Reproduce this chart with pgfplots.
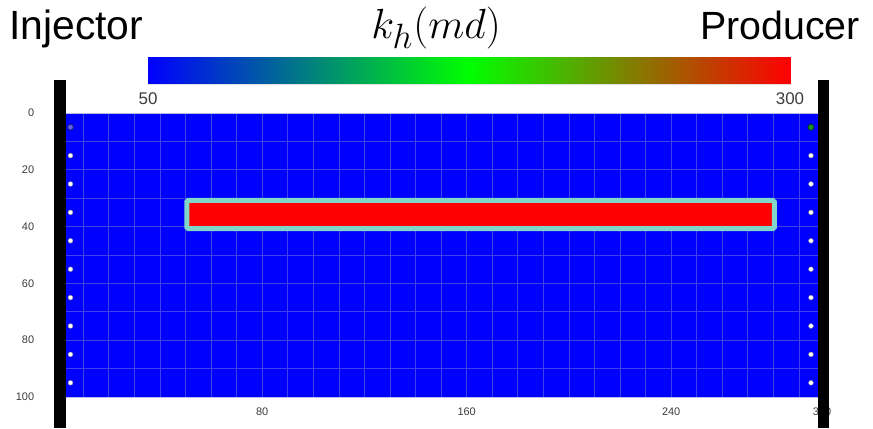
\documentclass[border=0pt]{standalone}
\usepackage{pgfplots}
\pgfplotsset{compat=1.18}
\usepackage{fontspec}
\setmainfont{Liberation Sans}
\definecolor{fieldblue}{RGB}{0,0,255}
\definecolor{gridc}{RGB}{65,65,232}
\definecolor{aqua}{RGB}{128,214,200}
\definecolor{ticktxt}{RGB}{60,60,60}
\definecolor{wellgreen}{RGB}{20,150,40}
\definecolor{edgec}{RGB}{185,185,235}
\begin{document}
\begin{tikzpicture}[x=1bp,y=1bp]
\useasboundingbox (0,0) rectangle (873,428);
\node[anchor=base west, inner sep=0, font=\fontsize{41}{46}\selectfont] at (9,388) {Injector};
\node[anchor=base east, inner sep=0, font=\fontsize{39.5}{44}\selectfont] at (860,388) {Producer};
\node[anchor=base, inner sep=0, scale=1.7, font=\fontsize{24.88}{28}\selectfont] at (436,389) {$k_h(md)$};

% colour bar
\begin{axis}[at={(148bp,344bp)}, anchor=south west, width=642bp, height=27bp, scale only axis,
  xmin=50, xmax=300, ymin=0, ymax=1, axis line style={draw=black!12},
  ytick=\empty, xtick={50,300}, major tick length=0,
  xticklabel style={font=\fontsize{17}{19}\selectfont, text=ticktxt, yshift=-5bp},
  /pgf/number format/assume math mode=true,
  colormap={bgr}{rgb255(0cm)=(0,0,255); rgb255(1cm)=(0,255,0); rgb255(2cm)=(255,0,0)},
  point meta min=50, point meta max=300]
\addplot[surf, shader=interp, point meta=x] coordinates {
(50,0) (300,0)

(50,1) (300,1)
};
\end{axis}

% reservoir field
\begin{axis}[at={(57.7bp,31bp)}, anchor=south west, width=766.8bp, height=284bp, scale only axis,
  xmin=0, xmax=30, ymin=0, ymax=100, y dir=reverse, clip=false,
  axis background/.style={fill=fieldblue}, axis line style={draw=none},
  xtick={8,16,24,29.9}, xticklabels={80,160,240,320},
  ytick={0,20,40,60,80,100},
  minor xtick={1,2,...,29}, minor ytick={10,20,...,90},
  grid=minor, minor grid style={gridc, line width=0.7bp},
  major tick length=0, minor tick length=0,
  tick label style={font=\fontsize{11}{12}\selectfont, text=ticktxt},
  yticklabel style={xshift=-20bp}, xticklabel style={yshift=-7bp},
  /pgf/number format/assume math mode=true]
\draw[edgec, line width=1bp] (axis cs:0,0) -- (axis cs:30,0);
\draw[edgec, line width=1bp] (axis cs:0,100) -- (axis cs:30,100);
\addplot[fill=red, draw=aqua, line width=5bp, rounded corners=1.5bp] coordinates {
(5.05,30.8) (28.04,30.8) (28.04,40.7) (5.05,40.7)} -- cycle;
\addplot[only marks, mark=*, mark size=2.4bp, mark options={fill=white, draw=black!45, line width=0.4bp}] coordinates {
(0.5,15) (0.5,25) (0.5,35) (0.5,45) (0.5,55) (0.5,65) (0.5,75) (0.5,85) (0.5,95)
(29.47,15) (29.47,25) (29.47,35) (29.47,45) (29.47,55) (29.47,65) (29.47,75) (29.47,85) (29.47,95)};
\addplot[only marks, mark=*, mark size=3bp, mark options={fill={rgb,255:red,95;green,95;blue,245}, draw={rgb,255:red,25;green,25;blue,100}, line width=0.8bp}] coordinates {(0.5,5)};
\addplot[only marks, mark=*, mark size=3bp, mark options={fill=wellgreen, draw={rgb,255:red,10;green,60;blue,20}, line width=0.8bp}] coordinates {(29.47,5)};
\end{axis}

% well bars on top
\begin{axis}[at={(57.7bp,31bp)}, anchor=south west, width=766.8bp, height=284bp, scale only axis,
  xmin=0, xmax=30, ymin=0, ymax=100, y dir=reverse, clip=false, hide axis]
\addplot[fill=black, draw=none] coordinates {(-0.145,-11.6) (0.325,-11.6) (0.325,110.9) (-0.145,110.9)} -- cycle;
\addplot[fill=black, draw=none] coordinates {(29.75,-11.6) (30.18,-11.6) (30.18,110.9) (29.75,110.9)} -- cycle;
\end{axis}
\end{tikzpicture}
\end{document}
